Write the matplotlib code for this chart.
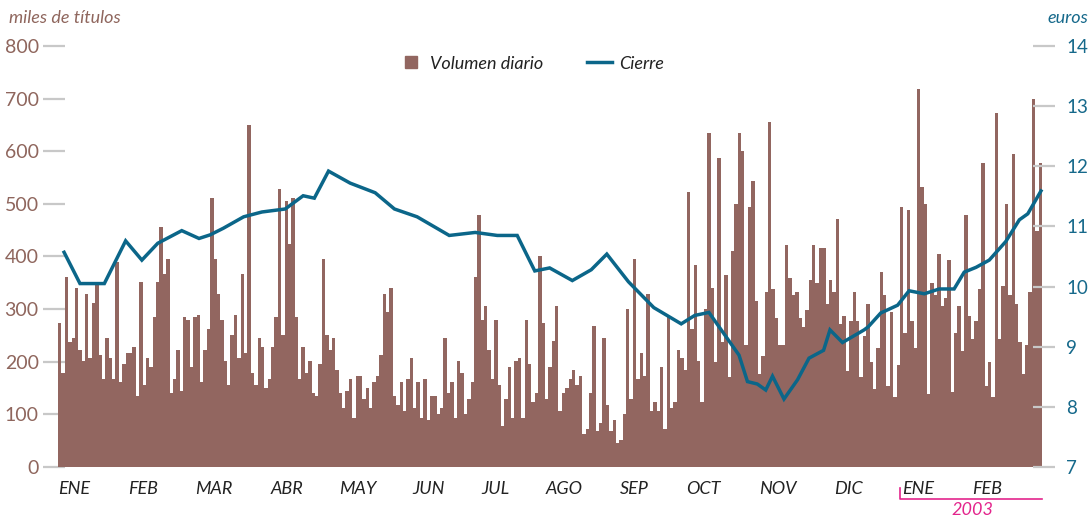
import matplotlib
matplotlib.use("Agg")
import matplotlib.pyplot as plt
from matplotlib.lines import Line2D
import numpy as np

plt.rcParams['font.family'] = ['Lato', 'DejaVu Sans']

# daily volume, thousands of shares (ENE 2002 .. FEB 2003)
volume = [
    273, 178, 361, 238, 245, 340, 222, 201, 328, 207,
    311, 345, 212, 167, 245, 207, 167, 389, 161, 195,
    216, 216, 228, 135, 351, 155, 207, 190, 285, 351,
    456, 366, 395, 140, 167, 222, 144, 285, 279, 190,
    285, 288, 161, 222, 262, 511, 395, 328, 279, 201,
    155, 250, 288, 207, 366, 216, 650, 178, 155, 245,
    228, 150, 167, 228, 285, 528, 250, 505, 424, 511,
    285, 167, 228, 178, 201, 140, 135, 195, 395, 250,
    222, 245, 184, 140, 112, 144, 167, 94, 172, 172,
    129, 150, 112, 161, 172, 212,
    328, 294, 340, 134, 117, 161, 106, 167, 207, 112,
    161, 94, 167, 89, 134, 134, 100, 112, 245, 140,
    161, 94, 201, 178, 100, 129, 161, 361, 479, 279,
    306, 222, 167, 279, 155, 77, 129, 190, 94, 201,
    207, 94, 279, 195, 123, 140, 401, 273, 129, 190,
    239, 306, 106, 140, 150, 167, 184, 155, 172, 62,
    72, 140, 268, 68, 83, 245, 117, 68, 89, 45,
    51, 100, 300, 129, 395, 167, 216, 172, 328, 106,
    123, 106, 190, 72, 285, 112, 123, 222, 207, 184,
    522, 262, 384, 201, 123, 300, 635, 340,
    200, 588, 238, 365, 171, 411, 500, 634, 600, 232,
    495, 544, 316, 177, 211, 333, 655, 339, 284, 232,
    232, 422, 360, 327, 333, 284, 266, 299, 356, 422,
    350, 417, 417, 310, 356, 333, 472, 272, 287, 183,
    278, 333, 278, 171, 249, 310, 200, 148, 226, 371,
    327, 154, 295, 133, 194, 495, 255, 489, 278, 226,
    718, 533, 500, 139, 350, 327, 405, 305, 322, 394,
    143, 255, 305, 221, 478, 287, 244, 278, 339, 577,
    154, 200, 133, 672, 244, 344, 500, 327, 594, 310,
    238, 177, 232, 333, 700, 449, 577,
]

# closing price (euros), sampled at trading-day positions
close_day = [1.3, 6.0, 13.2, 19.5, 24.3, 29.0, 36.1, 41.2, 44.5, 48.4,
             54.4, 59.8, 66.7, 72.0, 75.3, 79.5, 85.9, 93.3, 99.0, 105.7,
             115.2, 122.9, 129.4, 135.3, 140.5, 144.9, 151.6, 157.2, 161.8, 168.2,
             175.7, 183.8, 187.8, 192.0, 200.9, 203.4, 206.3, 208.8, 210.8, 214.2,
             218.2, 221.6, 225.9, 227.8, 231.5, 237.9, 239.1, 242.8, 247.8, 251.2,
             255.7, 260.1, 264.5, 267.5, 271.0, 274.9, 279.8, 283.8, 286.3, 290.2]
close = [10.57, 10.05, 10.05, 10.76, 10.44, 10.72, 10.93, 10.80, 10.86, 10.97,
         11.16, 11.24, 11.29, 11.51, 11.47, 11.92, 11.72, 11.56, 11.29, 11.16,
         10.85, 10.90, 10.85, 10.85, 10.26, 10.31, 10.10, 10.28, 10.54, 10.08,
         9.65, 9.38, 9.52, 9.57, 8.86, 8.42, 8.38, 8.28, 8.51, 8.13,
         8.45, 8.81, 8.94, 9.28, 9.07, 9.28, 9.33, 9.56, 9.69, 9.93,
         9.88, 9.96, 9.96, 10.24, 10.32, 10.44, 10.75, 11.11, 11.21, 11.59]

months = ["ENE", "FEB", "MAR", "ABR", "MAY", "JUN", "JUL", "AGO", "SEP",
          "OCT", "NOV", "DIC", "ENE", "FEB"]
month_pos = [4.2, 24.8, 45.7, 67.1, 88.1, 109.0, 128.8, 149.1, 170.0,
             190.5, 212.3, 233.3, 253.9, 274.4]
year_start = 248.6

BROWN = '#926660'
BROWN_TXT = '#8f665d'
TEAL = '#0b6689'
TEAL_TXT = '#16698b'
GRAY = '#c8c8c8'
PINK = '#e3258c'

W, H = 1091, 518
fig = plt.figure(figsize=(W / 100, H / 100), dpi=100)
ax = fig.add_axes([54 / W, 1 - 467 / H, 990 / W, 421 / H])

n = len(volume)
px = 983 / n
x = np.arange(n)
ax.bar(x, volume, width=1.0, color=BROWN, linewidth=0,
       antialiased=False, zorder=2)
ax.set_xlim(-0.5 - 4 / px, n - 0.5 + 2 / px)
ax.set_ylim(0, 800)
ax.set_yticks(range(0, 801, 100))

ax2 = ax.twinx()
ax2.plot(close_day, close, color=TEAL, lw=2.5, solid_joinstyle='miter', zorder=3)
ax2.set_ylim(7, 14)
ax2.set_yticks(range(7, 15))

for a in (ax, ax2):
    for s in a.spines.values():
        s.set_visible(False)

ax.tick_params(axis='y', direction='inout', length=16, width=1.6, color=GRAY,
               labelcolor=BROWN_TXT, labelsize=14, pad=3)
ax2.tick_params(axis='y', direction='inout', length=16, width=1.6, color=GRAY,
                labelcolor=TEAL_TXT, labelsize=13.5, pad=8)

ax.set_xticks(month_pos)
ax.set_xticklabels(months, fontstyle='italic', fontsize=13, color='#222222')
ax.tick_params(axis='x', length=0, pad=10)

fig.text(9 / W, 1 - 18 / H, "miles de títulos", fontstyle='italic', fontsize=13,
         color=BROWN_TXT, va='center', ha='left')
fig.text(1088 / W, 1 - 18 / H, "euros", fontstyle='italic', fontsize=13,
         color=TEAL_TXT, va='center', ha='right')

handles = [Line2D([], [], marker='s', linestyle='none', markersize=9, color=BROWN),
           Line2D([], [], color=TEAL, lw=2.5)]
leg = ax.legend(handles, ["Volumen diario", "Cierre"], loc='center',
                bbox_to_anchor=(0.482, 0.958), ncol=2, frameon=False,
                prop={'style': 'italic', 'size': 13}, handlelength=1.4,
                columnspacing=2.4, handletextpad=0.4)
for t in leg.get_texts():
    t.set_color('#222222')

# 2003 bracket below the axis
tr = ax.get_xaxis_transform()
ax.plot([year_start, year_start, n - 0.5], [-0.05, -0.076, -0.076], color=PINK,
        lw=1.2, transform=tr, clip_on=False)
ax.text((year_start + n) / 2, -0.102, "2003", transform=tr, color=PINK,
        fontstyle='italic', fontsize=13, ha='center', va='center')

fig.savefig("out.png", dpi=100)
